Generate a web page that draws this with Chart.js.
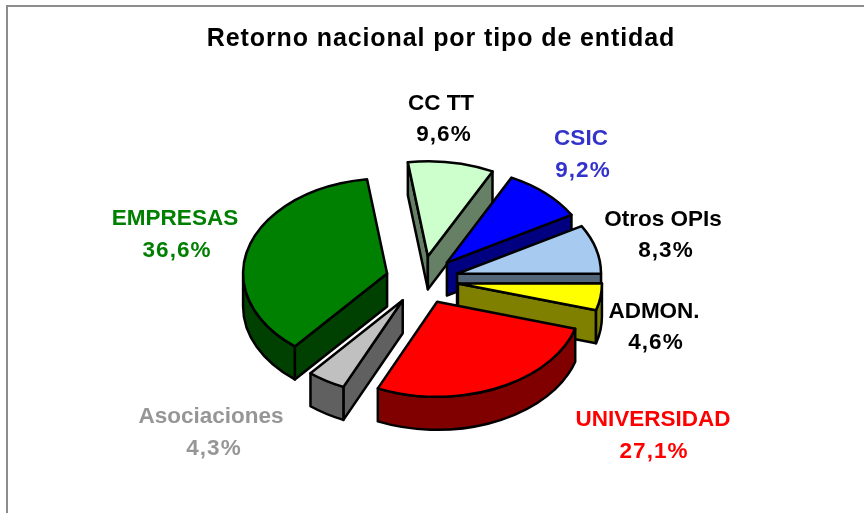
<!DOCTYPE html>
<html><head><meta charset="utf-8">
<style>html,body{margin:0;padding:0;background:#fff}canvas{display:block}</style>
<script src="https://cdn.jsdelivr.net/npm/chart.js@4"></script>
</head><body><canvas id="c" width="864" height="513"></canvas>
<script>
const titleText = 'Retorno nacional por tipo de entidad';
const categories = ['CC TT','CSIC','Otros OPIs','ADMON.','UNIVERSIDAD','Asociaciones','EMPRESAS'];
const shares = [9.6,9.2,8.3,4.6,27.1,4.3,36.6];
const shareLabels = ['9,6%','9,2%','8,3%','4,6%','27,1%','4,3%','36,6%'];
const topColors = ['#ccffcc','#0000ff','#a6caf0','#ffff00','#ff0000','#c0c0c0','#008000'];
const wallColors = ['#668066','#000080','#536578','#808000','#800000','#606060','#004000'];
const labelColors = ['#000000','#3333cc','#000000','#000000','#ff0000','#969696','#008000'];
const labelCentres = [[441,104,444,135],[581,139,583,171],[663,220,666,251],[654,312,656,343],[653,420,654,452],[211,417,214,449],[175,219,177,251]];
const CX=422, CY=280, SQUASH=0.66, DEPTH=33, RADIUS=144, EXPLODE=36.3;

const pie3d = {
  id:'pie3d',
  beforeDraw(chart){
    const c=chart.ctx; c.save(); c.fillStyle='#8c8c8c';
    c.fillRect(6,5,858,2); c.fillRect(6,5,2,508); c.restore();
    c.letterSpacing='0.9px';
  },
  beforeDatasetsDraw(chart){
    const c=chart.ctx, arcs=chart.getDatasetMeta(0).data;
    c.letterSpacing='0px';
    c.lineJoin='round'; c.lineWidth=2.5; c.strokeStyle='#000';
    arcs.forEach((arc,i)=>{
      const p=arc.getProps(['x','y','startAngle','endAngle','outerRadius'],true);
      const a=p.startAngle,b=p.endAngle,r=p.outerRadius,mid=(a+b)/2;
      const ox=CX+Math.cos(mid)*EXPLODE, oy=CY+Math.sin(mid)*EXPLODE*SQUASH;
      const pt=t=>[ox+r*Math.cos(t),oy+r*SQUASH*Math.sin(t)];
      c.fillStyle=wallColors[i];
      const quad=t=>{const q=pt(t);c.beginPath();c.moveTo(ox,oy);c.lineTo(q[0],q[1]);c.lineTo(q[0],q[1]+DEPTH);c.lineTo(ox,oy+DEPTH);c.closePath();c.fill();c.stroke();};
      if(Math.cos(a)<0) quad(a);
      if(Math.cos(b)>0) quad(b);
      const s=Math.max(a,0), e=Math.min(b,Math.PI);
      if(e>s){
        c.beginPath();
        c.ellipse(ox,oy,r,r*SQUASH,0,s,e);
        c.ellipse(ox,oy+DEPTH,r,r*SQUASH,0,e,s,true);
        c.closePath();c.fill();c.stroke();
      }
      // top face through the library's own arc element, flattened and moved out
      c.save();
      c.translate(ox,oy);c.scale(1,SQUASH);c.translate(-p.x,-p.y);
      arc.draw(c,chart.chartArea);
      c.restore();
      c.beginPath();c.moveTo(ox,oy);c.ellipse(ox,oy,r,r*SQUASH,0,a,b);c.closePath();c.stroke();
    });
    // labels
    c.textAlign='center';c.textBaseline='middle';c.font='bold 22.5px "Liberation Sans"';
    categories.forEach((n,i)=>{
      const L=labelCentres[i];c.fillStyle=labelColors[i];
      c.letterSpacing='0px';
      c.fillText(n,L[0],L[1]);
      c.letterSpacing='1px';
      c.fillText(shareLabels[i],L[2],L[3]);
    });
    c.letterSpacing='0px';
    return false;
  }
};
new Chart(document.getElementById('c'),{
  type:'pie',
  data:{labels:categories,datasets:[{data:shares,backgroundColor:topColors,borderWidth:0,clip:false}]},
  options:{responsive:false,animation:false,rotation:-8,radius:RADIUS,
    layout:{padding:{left:18,top:24}},
    events:[],
    plugins:{legend:{display:false},tooltip:{enabled:false},
      title:{display:true,text:titleText,color:'#000',font:{family:'"Liberation Sans"',size:25,weight:'bold'},padding:{top:0,bottom:0}}}},
  plugins:[pie3d]
});
</script></body></html>
